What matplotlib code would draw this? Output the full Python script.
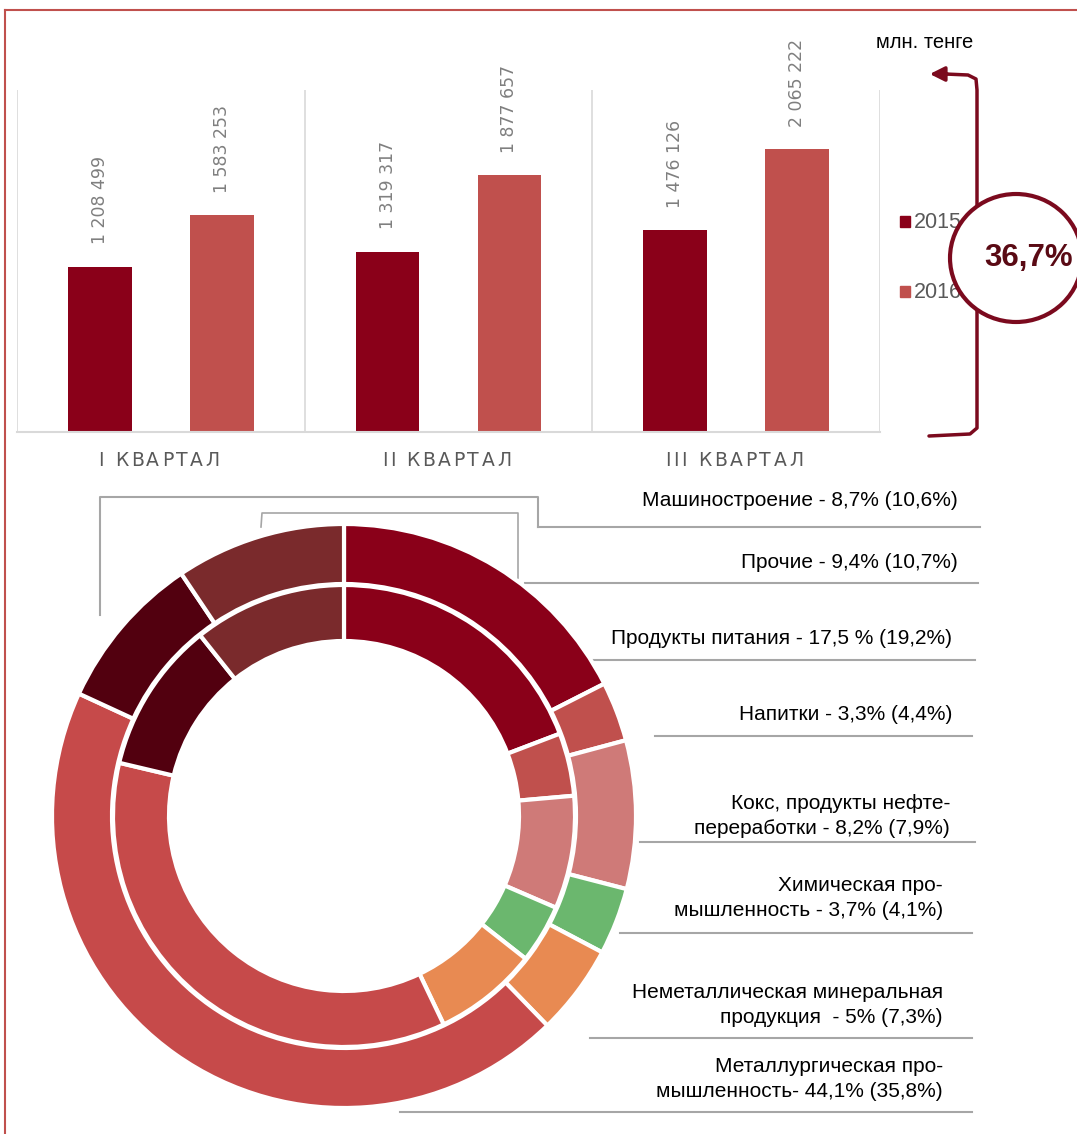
import matplotlib.pyplot as plt
from matplotlib.patches import Ellipse, Rectangle
from matplotlib import font_manager

# Data
quarters = ['I КВАРТАЛ', 'II КВАРТАЛ', 'III КВАРТАЛ']
values_2015 = [1208499, 1319317, 1476126]
values_2016 = [1583253, 1877657, 2065222]

sectors = ['Продукты питания', 'Напитки', 'Кокс', 'Химическая', 'Неметаллическая',
           'Металлургическая', 'Машиностроение', 'Прочие']
share_2016 = [17.5, 3.3, 8.2, 3.7, 5.0, 44.1, 8.7, 9.4]
share_2015 = [19.2, 4.4, 7.9, 4.1, 7.3, 35.8, 10.6, 10.7]
sector_colors = ['#8A0019', '#C0504D', '#CF7A78', '#6BB76E', '#E88A52',
                 '#C64A4A', '#52000F', '#7A2A2C']

labels = [
    'Машиностроение - 8,7% (10,6%)',
    'Прочие - 9,4% (10,7%)',
    'Продукты питания - 17,5 % (19,2%)',
    'Напитки - 3,3% (4,4%)',
    'Кокс, продукты нефте-\nпереработки - 8,2% (7,9%)',
    'Химическая про-\nмышленность - 3,7% (4,1%)',
    'Неметаллическая минеральная\nпродукция  - 5% (7,3%)',
    'Металлургическая про-\nмышленность- 44,1% (35,8%)',
]

names = {f.name for f in font_manager.fontManager.ttflist}
narrow = 'Liberation Sans Narrow' if 'Liberation Sans Narrow' in names else 'Liberation Sans'

W, H = 1077, 1134
fig = plt.figure(figsize=(W / 100, H / 100), dpi=100)
renderer = fig.canvas.get_renderer()

# overlay in pixel coords
ax0 = fig.add_axes([0, 0, 1, 1])
ax0.set_xlim(0, W)
ax0.set_ylim(H, 0)
ax0.axis('off')
ax0.patch.set_alpha(0)


def spaced_text(xc, y, s, extra, **kw):
    # letter-spaced text, centred on xc (pixel coords)
    widths = []
    for k in range(1, len(s) + 1):
        t = ax0.text(0, 0, s[:k] + '|', **kw)
        widths.append(t.get_window_extent(renderer).width)
        t.remove()
    bar = ax0.text(0, 0, '|', **kw)
    wbar = bar.get_window_extent(renderer).width
    bar.remove()
    starts = [0] + [w - wbar for w in widths[:-1]]
    total = widths[-1] - wbar + extra * (len(s) - 1)
    x = xc - total / 2
    for k, ch in enumerate(s):
        ax0.text(x + starts[k] + extra * k, y, ch, ha='left', va='center', **kw)


# border
ax0.plot([5, W], [10, 10], color='#C0504D', lw=1.5)
ax0.plot([5, 5], [10, H], color='#C0504D', lw=1.5)

#########################################################################################
# Bar chart
ax = fig.add_axes([17 / W, 1 - 432 / H, (880 - 17) / W, (432 - 90) / H])
x = list(range(len(quarters)))
off, bw = 0.212, 0.222
b1 = ax.bar([i - off for i in x], values_2015, width=bw, color='#8A0019')
b2 = ax.bar([i + off for i in x], values_2016, width=bw, color='#C0504D')
for bars, vals in [(b1, values_2015), (b2, values_2016)]:
    for r, v in zip(bars, vals):
        ax.annotate(f'{v:,}'.replace(',', ' '), (r.get_x() + r.get_width() / 2, v),
                    xytext=(0, 16), textcoords='offset points', rotation=90,
                    ha='center', va='bottom', fontsize=12.5, color='#7F7F7F',
                    family='DejaVu Sans')
ax.set_xlim(-0.5, 2.5)
ax.set_ylim(0, 2.5e6)
for s in ['top', 'right', 'left']:
    ax.spines[s].set_visible(False)
ax.spines['bottom'].set_color('#D9D9D9')
ax.spines['bottom'].set_linewidth(1.5)
for b in [-0.5, 0.5, 1.5, 2.5]:
    ax.axvline(b, color='#D9D9D9', lw=1.2)
ax.set_yticks([])
ax.set_xticks(x)
ax.set_xticklabels([])
ax.tick_params(axis='x', length=0)

# quarter labels with letter spacing
for i, q in enumerate(quarters):
    xc = ax0.transData.inverted().transform(ax.transData.transform((i, 0)))[0]
    spaced_text(xc - 2, 460, q, 2.6, fontsize=13.5, color='#595959', family='DejaVu Sans')

# legend
ax0.add_patch(Rectangle((900, 216), 10, 11, color='#8A0019'))
ax0.add_patch(Rectangle((900, 286), 10, 11, color='#C0504D'))
ax0.text(914, 222, '2015', fontsize=15.5, color='#595959', va='center', family=narrow)
ax0.text(914, 292, '2016', fontsize=15.5, color='#595959', va='center', family=narrow)

ax0.text(925, 42, 'млн. тенге', fontsize=14.5, color='black', ha='center', va='center',
         family=narrow)

# bracket with arrow
bc = '#7B0A1E'
ax0.plot([945, 968, 976, 977, 977, 970, 929], [74, 75, 79, 90, 428, 434, 436],
         color=bc, lw=2.5, solid_capstyle='round')
ax0.annotate('', xy=(927, 74), xytext=(950, 74),
             arrowprops=dict(arrowstyle='-|>', color=bc, lw=2.5, mutation_scale=22))
ax0.add_patch(Ellipse((1016, 258), 132, 128, facecolor='white', edgecolor=bc, lw=3, zorder=5))
ax0.text(1029, 258, '36,7%', fontsize=22.5, fontweight='bold', color='#5A0A14',
         ha='center', va='center', zorder=6, family=narrow)

#########################################################################################
# Donut
cx, cy, R = 344, 816, 292
axp = fig.add_axes([(cx - R) / W, 1 - (cy + R) / H, 2 * R / W, 2 * R / H])
axp.pie(share_2016, radius=1.0, colors=sector_colors, startangle=90, counterclock=False,
        wedgeprops=dict(width=60 / R, edgecolor='white', linewidth=3))
axp.pie(share_2015, radius=231 / R, colors=sector_colors, startangle=90, counterclock=False,
        wedgeprops=dict(width=56 / R, edgecolor='white', linewidth=3))
axp.set_xlim(-1, 1)
axp.set_ylim(-1, 1)
axp.set_aspect('equal')
axp.axis('off')

# labels and leader lines
gray = '#A6A6A6'
label_y = [501, 563, 638, 714, 816, 898, 1005, 1079]
label_x = [958, 958, 952, 952, 950, 943, 943, 943]
line_y = [527, 583, 660, 736, 842, 933, 1038, 1112]
line_x0 = [538, 525, 590, 655, 640, 620, 590, 400]
line_x1 = [980, 978, 975, 972, 975, 972, 972, 972]
for i, txt in enumerate(labels):
    fam = 'Liberation Sans' if i < 4 else narrow
    ax0.text(label_x[i], label_y[i], txt, ha='right', va='center', fontsize=15,
             color='black', family=fam, linespacing=1.45, multialignment='right')
    ax0.plot([line_x0[i], line_x1[i]], [line_y[i], line_y[i]], color=gray, lw=1.5)

ax0.plot([538, 538, 100, 100], [527, 497, 497, 615], color=gray, lw=1.5)
ax0.plot([518, 518, 262, 261], [578, 513, 513, 527], color=gray, lw=1.2)

fig.savefig('out.png', dpi=100)
